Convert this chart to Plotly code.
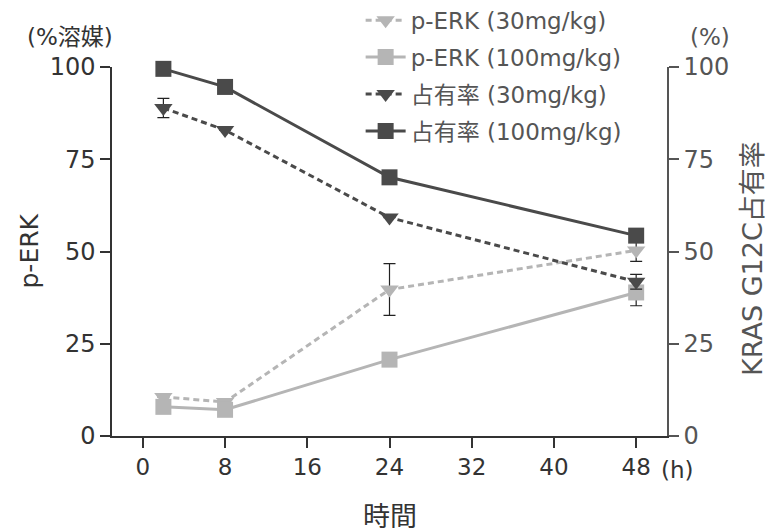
import plotly.graph_objects as go

hours = [2, 8, 24, 48]
perk_30 = [10.6, 9.2, 39.7, 50.3]
perk_30_err = [0, 0, 7.0, 3.0]
perk_100 = [7.9, 7.1, 20.7, 38.9]
perk_100_err = [0, 0, 0, 3.6]
occ_30 = [88.9, 82.9, 59.2, 41.8]
occ_30_err = [2.6, 0, 0, 2.0]
occ_100 = [99.5, 94.6, 70.1, 54.3]
occ_100_err = [0, 0, 0, 0]

xticks = [0, 8, 16, 24, 32, 40, 48]
yticks = [0, 25, 50, 75, 100]

DARK = "#4a4a4a"
LIGHT = "#b5b5b5"
FONT = "DejaVu Sans, Noto Sans CJK JP"

fig = go.Figure()

def add(name, y, err, color, dash, symbol, yaxis, group):
    fig.add_trace(go.Scatter(
        x=hours, y=y, name=name, mode="lines+markers", yaxis=yaxis,
        legendgroup=group,
        line=dict(color=color, width=3, dash=dash),
        marker=dict(color=color, symbol=symbol, size=16, line=dict(width=0)),
        error_y=dict(type="data", array=err, visible=True, color="#222", thickness=1.2, width=6),
        cliponaxis=False,
    ))

add("p-ERK (30mg/kg)", perk_30, perk_30_err, LIGHT, "6px,4px", "triangle-down", "y", "a")
add("p-ERK (100mg/kg)", perk_100, perk_100_err, LIGHT, "solid", "square", "y", "b")
add("占有率 (30mg/kg)", occ_30, occ_30_err, DARK, "6px,4px", "triangle-down", "y2", "c")
add("占有率 (100mg/kg)", occ_100, occ_100_err, DARK, "solid", "square", "y2", "d")

axis_common = dict(showgrid=False, zeroline=False, showline=True, linewidth=1.5,
                   ticks="outside", ticklen=10, tickwidth=1.5)

fig.update_layout(
    width=771, height=532,
    margin=dict(l=112, r=104, t=67, b=96, autoexpand=False),
    plot_bgcolor="white", paper_bgcolor="white",
    font=dict(family=FONT, color="#333", size=24),
    showlegend=True,
    legend=dict(x=0.448, y=1.185, xanchor="left", yanchor="top",
                bgcolor="rgba(0,0,0,0)", font=dict(size=23, color="#555"),
                tracegroupgap=4, itemwidth=40),
    xaxis=dict(range=[-3, 51], tickvals=xticks, ticktext=[str(v) for v in xticks],
               linecolor="#333", tickcolor="#333", tickfont=dict(size=23, color="#333"),
               **axis_common),
    yaxis=dict(range=[0, 100], tickvals=yticks, linecolor="#333", tickcolor="#333",
               tickfont=dict(size=24, color="#333"), **axis_common),
    yaxis2=dict(range=[0, 100], tickvals=yticks, overlaying="y", side="right",
                linecolor="#555", tickcolor="#555", tickfont=dict(size=24, color="#555"),
                **axis_common),
    annotations=[
        dict(text="(%溶媒)", xref="paper", yref="paper", x=-0.0757, y=1.0, yshift=30,
             showarrow=False, font=dict(size=23, color="#333"), xanchor="center", yanchor="middle"),
        dict(text="(%)", xref="paper", yref="paper", x=1.0775, y=1.0, yshift=30,
             showarrow=False, font=dict(size=23, color="#555"), xanchor="center", yanchor="middle"),
        dict(text="(h)", xref="paper", yref="paper", x=1.0198, y=0, yshift=-34,
             showarrow=False, font=dict(size=23, color="#333"), xanchor="center", yanchor="middle"),
        dict(text="時間", xref="paper", yref="paper", x=0.5009, y=0, yshift=-80,
             showarrow=False, font=dict(size=27, color="#333"), xanchor="center", yanchor="middle"),
        dict(text="p-ERK", xref="paper", yref="paper", x=0, xshift=-83, y=0.5,
             showarrow=False, textangle=-90, font=dict(size=25, color="#333"),
             xanchor="center", yanchor="middle"),
        dict(text="KRAS G12C占有率", xref="paper", yref="paper", x=1, xshift=86, y=0.48,
             showarrow=False, textangle=-90, font=dict(size=27, color="#555"),
             xanchor="center", yanchor="middle"),
    ],
)

fig.write_html("out.html")
